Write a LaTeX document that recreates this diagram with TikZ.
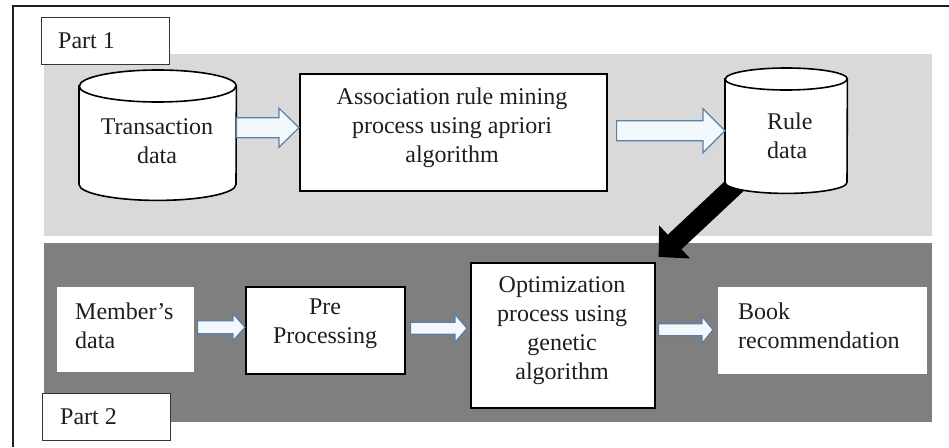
\documentclass[tikz,border=0pt]{standalone}
\usepackage{fontspec}
\setmainfont{Liberation Serif}
\usetikzlibrary{calc,arrows.meta}
\definecolor{lightband}{HTML}{D9D9D9}
\definecolor{darkband}{HTML}{7F7F7F}
\definecolor{arrline}{HTML}{5B7FA6}
\definecolor{arrfill}{HTML}{F3F8FC}
\definecolor{ink}{HTML}{1E1E1E}
\newcommand\hollowarr[6]{%
  \path[#6] let \p1=#1, \p2=#2 in
  (\x1,\y1+#3pt) -- (\x2-#5pt,\y1+#3pt) -- (\x2-#5pt,\y1+#4pt) -- (\x2,\y1)
  -- (\x2-#5pt,\y1-#4pt) -- (\x2-#5pt,\y1-#3pt) -- (\x1,\y1-#3pt) -- cycle;}
\newcommand\drawcyl[3]{%
  \draw[cyl] ($(#1.north west)+(0,#3)$) -- ($(#1.south west)+(0,-#3)$)
    arc[start angle=180,end angle=360,x radius=#2pt,y radius=#3pt]
    -- ($(#1.north east)+(0,#3)$)
    arc[start angle=0,end angle=180,x radius=#2pt,y radius=#3pt] -- cycle;
  \draw[cyl,fill=none] ($(#1.north west)+(0,#3)$)
    arc[start angle=180,end angle=360,x radius=#2pt,y radius=#3pt];}
\begin{document}
\begin{tikzpicture}[x=1pt,y=-1pt,
  every node/.style={font=\fontsize{24}{29}\selectfont, text=ink, inner sep=0pt},
  whitebox/.style={draw=black, line width=1.6pt, fill=white, anchor=north west},
  plainbox/.style={draw=none, fill=white, anchor=north west},
  labelbox/.style={draw=ink!90, line width=1pt, fill=white, anchor=north west},
  region/.style={draw=none, anchor=north west},
  ctxt/.style={align=center},
  ltxt/.style={align=left, anchor=west},
  cyl/.style={draw=black, line width=1.6pt, fill=white},
  hollow/.style={draw=arrline, line width=1.2pt, fill=arrfill, line join=miter},
]
\useasboundingbox (0,0) rectangle (949,447);
\fill[white] (0,0) rectangle (949,447);
% outer frame (clipped at right and bottom)
\draw[ink, line width=1.8pt] (13,447) -- (13,6) -- (949,6);
% bands
\node[region, fill=lightband, minimum width=888pt, minimum height=182pt] (p1band) at (44,54) {};
\node[region, fill=darkband, minimum width=888pt, minimum height=179pt] (p2band) at (44,243) {};
% part labels
\node[labelbox, minimum width=128pt, minimum height=47pt] (part1box) at (41,17) {};
\node[ltxt] (part1) at (58,40.5) {Part 1};
\node[labelbox, minimum width=128pt, minimum height=47pt] (part2box) at (42,393) {};
\node[ltxt] (part2) at (60,417) {Part 2};
% regions of the cylinders
\node[region, minimum width=157pt, minimum height=130pt] (td) at (79,70) {};
\node[region, minimum width=122pt, minimum height=125pt] (rd) at (725,68) {};
% boxes
\node[whitebox, minimum width=307pt, minimum height=117pt] (assoc) at (299,73) {};
\node[plainbox, minimum width=137pt, minimum height=85pt] (member) at (57,287) {};
\node[whitebox, minimum width=159pt, minimum height=87pt] (pre) at (245,286) {};
\node[whitebox, minimum width=184pt, minimum height=145pt] (opt) at (470,262) {};
\node[plainbox, minimum width=209pt, minimum height=87pt] (book) at (718,287) {};
% black arrow from rule data to optimization
\draw[black, line width=20pt, -{Triangle[width=44pt,length=22pt]}]
  ($(rd.south)+(-48,-11)$) -- ($(opt.north east)+(3,-5)$);
% cylinders
\drawcyl{td}{78.5}{16}
\drawcyl{rd}{61}{11}
% hollow arrows
\hollowarr{($(td.east)+(0,-7.5)$)}{(assoc.west)}{10}{19.5}{20}{hollow}
\hollowarr{($(assoc.east)+(9,-1.5)$)}{(rd.west)}{10}{22}{22}{hollow}
\hollowarr{($(member.east)+(3,-2.5)$)}{(pre.west)}{6.5}{13.5}{12}{hollow}
\hollowarr{($(pre.east)+(5,-2)$)}{($(opt.west)+(-3,0)$)}{6}{14}{12}{hollow}
\hollowarr{($(opt.east)+(3,-5.5)$)}{($(book.west)+(-5,0)$)}{6}{13.5}{11}{hollow}
% texts
\node[ctxt] (tdtext) at (157,141) {Transaction\\data};
\node[ctxt] (assoctext) at (452,128) {Association rule mining\\process using apriori\\algorithm};
\node[ltxt] (rdtext) at (767,136) {Rule\\data};
\node[ltxt] (membertext) at (75,326) {Member's\\data};
\node[ctxt] (pretext) at (325,324) {Pre\\Processing};
\node[ctxt] (opttext) at (562,331) {Optimization\\process using\\genetic\\algorithm};
\node[ltxt] (booktext) at (738,326) {Book\\recommendation};
\end{tikzpicture}
\end{document}
